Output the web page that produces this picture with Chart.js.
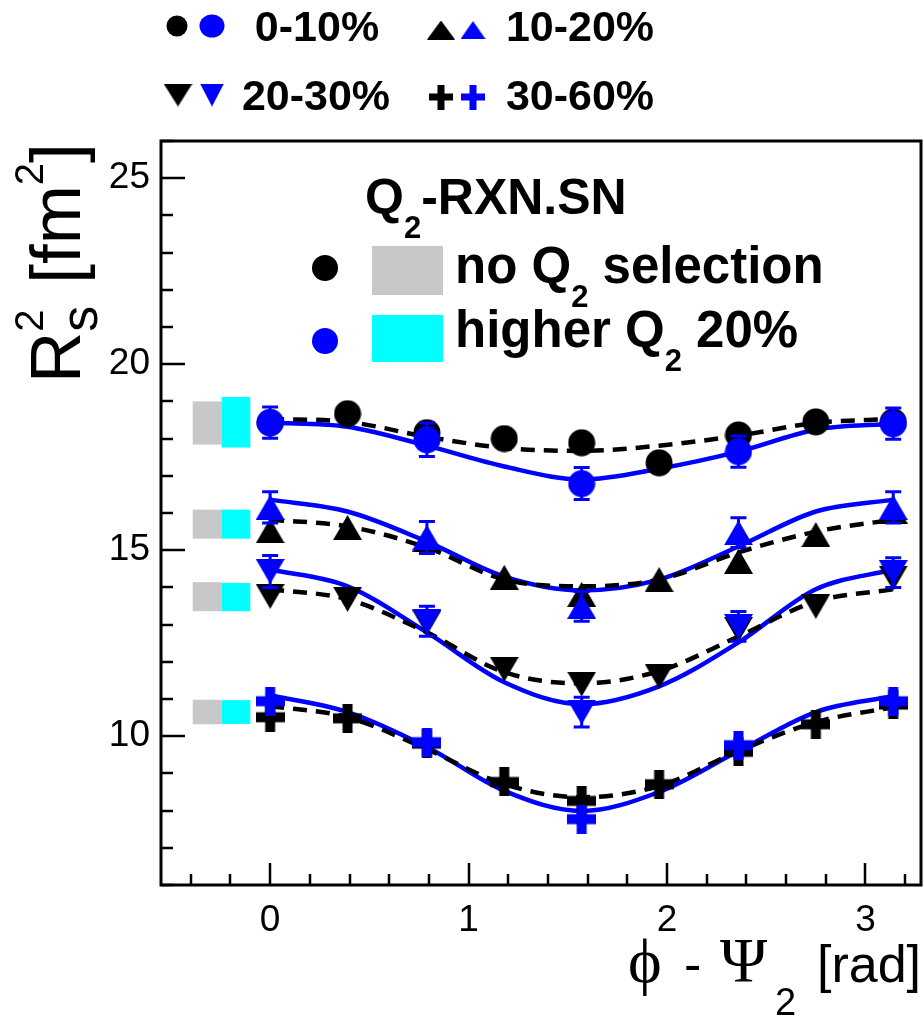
<!DOCTYPE html>
<html>
<head>
<meta charset="utf-8">
<script src="https://cdn.jsdelivr.net/npm/chart.js@4.4.1/dist/chart.umd.min.js"></script>
<style>
  html, body { margin: 0; padding: 0; background: #fff; overflow: hidden; }
</style>
</head>
<body>
<canvas id="hbt" width="924" height="1017"></canvas>
<script>
// phi - Psi2 bin centres (rad)
const phiAll = [0, 0.39, 0.79, 1.18, 1.57, 1.96, 2.36, 2.75, 3.14];
const phiHigh = [0, 0.79, 1.57, 2.36, 3.14];

// Rs^2 (fm^2), no Q2 selection
const rs0010All = [18.43, 18.67, 18.16, 18.00, 17.89, 17.35, 18.10, 18.45, 18.45];
const rs1020All = [15.52, 15.61, 15.30, 14.27, 13.81, 14.21, 14.70, 15.42, 16.05];
const rs2030All = [13.76, 13.68, 13.05, 11.80, 11.40, 11.61, 12.87, 13.49, 14.25];
const rs3060All = [10.51, 10.48, 9.80, 8.77, 8.26, 8.71, 9.58, 10.32, 10.85];

// Rs^2 (fm^2), higher Q2 20%
const rs0010High = [18.43, 17.97, 16.79, 17.65, 18.40];
const rs1020High = [16.15, 15.34, 13.49, 15.47, 16.15];
const rs2030High = [14.43, 13.09, 10.65, 12.95, 14.40];
const rs3060High = [10.94, 9.84, 7.77, 9.76, 10.94];

// statistical errors on the higher-Q2 points
const err0010High = [0.42, 0.45, 0.43, 0.42, 0.42];
const err1020High = [0.42, 0.43, 0.40, 0.40, 0.42];
const err2030High = [0.43, 0.40, 0.40, 0.40, 0.40];
const err3060High = [0.13, 0.13, 0.13, 0.13, 0.13];

// fit curves sampled along phi
const fit0010All = [18.53, 18.45, 18.05, 17.75, 17.67, 17.81, 18.08, 18.42, 18.53];
const fit1020All = [15.82, 15.64, 15.07, 14.21, 14.03, 14.21, 14.94, 15.50, 15.82];
const fit2030All = [13.95, 13.68, 12.79, 11.72, 11.42, 11.75, 12.68, 13.62, 13.95];
const fit3060All = [10.81, 10.51, 9.65, 8.71, 8.36, 8.66, 9.60, 10.38, 10.78];
const fit0010High = [18.43, 18.32, 17.81, 17.25, 16.90, 17.19, 17.65, 18.24, 18.40];
const fit1020High = [16.36, 16.04, 15.23, 14.29, 13.92, 14.21, 15.10, 16.04, 16.36];
const fit2030High = [14.48, 14.03, 12.79, 11.45, 10.86, 11.34, 12.52, 13.95, 14.48];
const fit3060High = [11.10, 10.65, 9.71, 8.53, 7.99, 8.50, 9.60, 10.65, 11.08];

// systematic uncertainty boxes: centre and half height, per centrality
const sysAllMid = [18.42, 15.70, 13.75, 10.65];
const sysAllHalf = [0.58, 0.39, 0.39, 0.33];
const sysHighMid = [18.44, 15.70, 13.74, 10.65];
const sysHighHalf = [0.68, 0.39, 0.38, 0.32];

const centLabels = ['0-10%', '10-20%', '20-30%', '30-60%'];
const xTicks = [0, 1, 2, 3];
const yTicks = [10, 15, 20, 25];

const BLUE = '#0000ff';
const BLACK = '#000000';

// marker image of given box size, centred on its bounding box
function markerImg(shape, color, w, h, t) {
  const c = document.createElement('canvas');
  c.width = w; c.height = h;
  const g = c.getContext('2d');
  g.fillStyle = color;
  g.beginPath();
  if (shape === 'circle') {
    g.ellipse(w / 2, h / 2, w / 2 - 0.5, h / 2 - 0.5, 0, 0, Math.PI * 2);
  } else if (shape === 'up') {
    g.moveTo(w / 2, 0); g.lineTo(w, h); g.lineTo(0, h);
  } else if (shape === 'down') {
    g.moveTo(0, 0); g.lineTo(w, 0); g.lineTo(w / 2, h);
  } else {
    g.rect(0, (h - t) / 2, w, t);
    g.rect((w - t) / 2, 0, t, h);
  }
  g.closePath();
  g.fill();
  return c;
}
const plotMarker = (shape, color) => {
  if (shape === 'circle') return markerImg(shape, color, 28, 28);
  if (shape === 'plus') return markerImg(shape, color, 29, 29, 10);
  return markerImg(shape, color, 29, 25);
};

const shapes = ['circle', 'up', 'down', 'plus'];
const allSets = [rs0010All, rs1020All, rs2030All, rs3060All];
const highSets = [rs0010High, rs1020High, rs2030High, rs3060High];
const highErrs = [err0010High, err1020High, err2030High, err3060High];
const fitAll = [fit0010All, fit1020All, fit2030All, fit3060All];
const fitHigh = [fit0010High, fit1020High, fit2030High, fit3060High];

const datasets = [];
shapes.forEach((s, i) => {
  datasets.push({
    label: centLabels[i] + ' higher Q2',
    data: phiHigh.map((x, j) => ({ x, y: highSets[i][j] })),
    pointStyle: plotMarker(s, BLUE), pointRadius: 12, showLine: false, order: 0
  });
  datasets.push({
    label: centLabels[i] + ' no Q2 selection',
    data: phiAll.map((x, j) => ({ x, y: allSets[i][j] })),
    pointStyle: plotMarker(s, BLACK), pointRadius: 12, showLine: false, order: 1
  });
  datasets.push({
    label: centLabels[i] + ' fit higher Q2',
    data: phiAll.map((x, j) => ({ x, y: fitHigh[i][j] })),
    showLine: true, pointRadius: 0, borderColor: BLUE, borderWidth: 4.5,
    cubicInterpolationMode: 'monotone', order: 3
  });
  datasets.push({
    label: centLabels[i] + ' fit no Q2 selection',
    data: phiAll.map((x, j) => ({ x, y: fitAll[i][j] })),
    showLine: true, pointRadius: 0, borderColor: BLACK, borderWidth: 4.5,
    borderDash: [14, 9], cubicInterpolationMode: 'monotone', order: 2
  });
});

// draws text pieces one after another, returns the advance
function rich(ctx, x, y, parts) {
  let cx = x;
  parts.forEach(p => {
    ctx.font = p.font;
    const w = ctx.measureText(p.t).width;
    ctx.fillText(p.t, cx, y + (p.dy || 0));
    cx += (p.adv !== undefined ? p.adv : w);
  });
  return cx - x;
}

const SANS = '"Liberation Sans", Arial, sans-serif';
const BOLD = 'bold 51px ' + SANS;
const BOLD_T = 'bold 50px ' + SANS;
const BOLD_TOP = 'bold 43px ' + SANS;
const SUB = 'bold 31px ' + SANS;

// key above the frame: [black w, h, blue w, h, arm]
const keyMarks = {
  circle: [22, 22, 26, 24],
  up: [28, 19, 25, 18],
  down: [29, 23, 24, 23],
  plus: [24, 25, 24, 25, 7]
};
const keyPos = [[177, 212, 26, 317, 41], [441, 473, 30, 580, 41],
                [178, 212, 95, 316, 110], [441, 473, 97, 580, 110]];

const decor = {
  id: 'decor',
  beforeDatasetsDraw(chart) {
    const { ctx, scales: { x, y } } = chart;
    ctx.save();
    const box = (x0, x1, mid, half, col) => {
      ctx.fillStyle = col;
      const px0 = x.getPixelForValue(x0), px1 = x.getPixelForValue(x1);
      const py0 = y.getPixelForValue(mid + half), py1 = y.getPixelForValue(mid - half);
      ctx.fillRect(px0, py0, px1 - px0, py1 - py0);
    };
    sysAllMid.forEach((m, i) => {
      box(-0.39, -0.245, m, sysAllHalf[i], '#c8c8c8');
      box(-0.245, -0.10, sysHighMid[i], sysHighHalf[i], '#00ffff');
    });
    ctx.restore();
  },
  afterDatasetsDraw(chart) {
    const { ctx, chartArea: a, scales: { x, y } } = chart;
    ctx.save();
    // error bars on the higher-Q2 points
    ctx.strokeStyle = BLUE;
    ctx.lineWidth = 3;
    highSets.forEach((set, i) => {
      set.forEach((v, j) => {
        const px = x.getPixelForValue(phiHigh[j]);
        const lo = y.getPixelForValue(v - highErrs[i][j]);
        const hi = y.getPixelForValue(v + highErrs[i][j]);
        ctx.beginPath();
        ctx.moveTo(px, lo); ctx.lineTo(px, hi);
        if (highErrs[i][j] > 0.3) {
          ctx.moveTo(px - 8, lo); ctx.lineTo(px + 8, lo);
          ctx.moveTo(px - 8, hi); ctx.lineTo(px + 8, hi);
        }
        ctx.stroke();
      });
    });

    // frame and inward ticks
    ctx.strokeStyle = BLACK;
    ctx.lineWidth = 3;
    ctx.strokeRect(a.left, a.top, a.right - a.left, a.bottom - a.top);
    ctx.lineWidth = 2.5;
    ctx.beginPath();
    for (let v = 6; v <= 26; v++) {
      const py = Math.round(y.getPixelForValue(v));
      const len = v % 5 === 0 ? 24 : 12;
      ctx.moveTo(a.left, py); ctx.lineTo(a.left + len, py);
    }
    for (let k = -2; k <= 16; k++) {
      const px = Math.round(x.getPixelForValue(k * 0.2));
      const len = k % 5 === 0 ? 22 : 11;
      ctx.moveTo(px, a.bottom); ctx.lineTo(px, a.bottom - len);
    }
    ctx.stroke();
    ctx.restore();
  },
  afterDraw(chart) {
    const { ctx } = chart;
    ctx.save();
    ctx.fillStyle = BLACK;
    ctx.textBaseline = 'alphabetic';

    // centrality key above the frame
    shapes.forEach((s, i) => {
      const [bx, ux, cy, tx, ty] = keyPos[i];
      const m = keyMarks[s];
      const mb = markerImg(s, BLACK, m[0], m[1], m[4]);
      const mu = markerImg(s, BLUE, m[2], m[3], m[4]);
      ctx.drawImage(mb, bx - mb.width / 2, cy - mb.height / 2);
      ctx.drawImage(mu, ux - mu.width / 2, cy - mu.height / 2);
      ctx.font = BOLD_TOP;
      ctx.textAlign = 'center';
      ctx.fillText(centLabels[i], tx, ty);
    });
    ctx.textAlign = 'left';

    // Q2 selection key inside the frame
    rich(ctx, 365, 214, [
      { t: 'Q', font: BOLD_T }, { t: '2', font: SUB, dy: 24 }, { t: '-RXN.SN', font: BOLD_T }
    ]);
    const dot = (col, cx, cy) => {
      ctx.fillStyle = col;
      ctx.beginPath(); ctx.arc(cx, cy, 13, 0, Math.PI * 2); ctx.fill();
    };
    dot(BLACK, 325, 268);
    dot(BLUE, 325, 341);
    ctx.fillStyle = '#c8c8c8'; ctx.fillRect(372, 246, 71, 49);
    ctx.fillStyle = '#00ffff'; ctx.fillRect(372, 315, 71, 47);
    ctx.fillStyle = BLACK;
    rich(ctx, 455, 283, [
      { t: 'no Q', font: BOLD }, { t: '2', font: SUB, dy: 24 }, { t: ' selection', font: BOLD }
    ]);
    rich(ctx, 455, 347, [
      { t: 'higher Q', font: BOLD }, { t: '2', font: SUB, dy: 24 }, { t: ' 20%', font: BOLD }
    ]);

    // y axis title, rotated
    const YT = '71px ' + SANS;
    const YS = '40px ' + SANS;
    const YSS = '52px ' + SANS;
    ctx.translate(80, 383);
    ctx.rotate(-Math.PI / 2);
    ctx.font = YS;
    const supW = ctx.measureText('2').width;
    rich(ctx, 0, 0, [
      { t: 'R', font: YT },
      { t: '2', font: YS, dy: -37, adv: 0 },
      { t: 's', font: YSS, dy: 17, adv: supW + 6 },
      { t: ' [fm', font: YT },
      { t: '2', font: YS, dy: -37 },
      { t: ']', font: YT }
    ]);
    ctx.setTransform(1, 0, 0, 1, 0, 0);

    // x axis title, pieces placed along the baseline
    const SER = '64px "Liberation Serif", "DejaVu Serif", serif';
    const XT = '52px ' + SANS;
    const XS = '38px ' + SANS;
    ctx.font = SER; ctx.fillText('\u03D5', 628, 982);
    ctx.font = XT;  ctx.fillText('-', 684, 982);
    ctx.font = SER; ctx.fillText('\u03A8', 720, 982);
    ctx.font = XS;  ctx.fillText('2', 775, 1015);
    ctx.font = XT;  ctx.textAlign = 'right'; ctx.fillText('[rad]', 921, 982);
    ctx.restore();
  }
};

new Chart(document.getElementById('hbt'), {
  type: 'scatter',
  data: { datasets },
  options: {
    responsive: false,
    animation: false,
    events: [],
    layout: { autoPadding: false, padding: { top: 141, right: 3, left: 0, bottom: 0 } },
    plugins: { legend: { display: false }, tooltip: { enabled: false } },
    scales: {
      x: {
        type: 'linear', min: -0.55, max: 3.28,
        grid: { display: false, drawTicks: false }, border: { display: false },
        afterBuildTicks: s => { s.ticks = xTicks.map(v => ({ value: v })); },
        afterFit: s => { s.height = 132; s.paddingLeft = 0; s.paddingRight = 0; },
        ticks: {
          color: BLACK, padding: 14, maxRotation: 0, autoSkip: false,
          font: { family: '"Liberation Sans Narrow", "Liberation Sans", sans-serif', size: 37 }
        }
      },
      y: {
        type: 'linear', min: 6, max: 26,
        grid: { display: false, drawTicks: false }, border: { display: false },
        afterBuildTicks: s => { s.ticks = yTicks.map(v => ({ value: v })); },
        afterFit: s => { s.width = 161; s.paddingTop = 0; s.paddingBottom = 0; },
        ticks: {
          color: BLACK, padding: 11,
          font: { family: SANS, size: 37 }
        }
      }
    }
  },
  plugins: [decor]
});
</script>
</body>
</html>
